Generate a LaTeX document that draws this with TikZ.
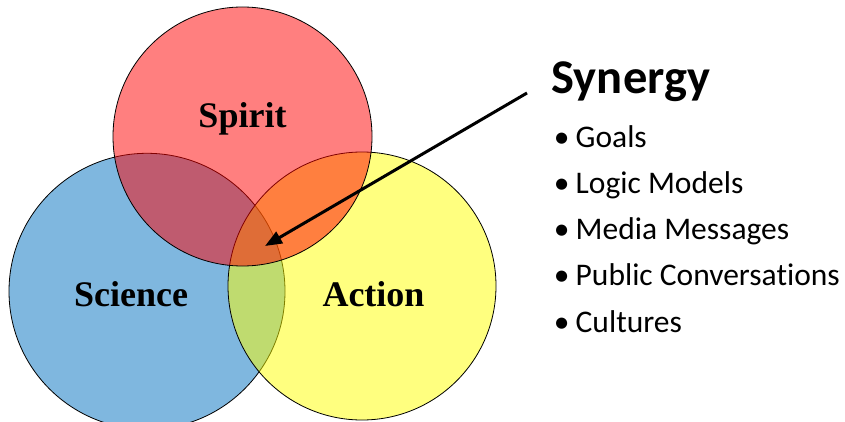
\documentclass[tikz,border=0pt]{standalone}
\usepackage{fontspec}
\setmainfont{Liberation Serif}
\newfontfamily\calib[Ligatures=NoCommon]{Carlito}
\usetikzlibrary{arrows.meta}
\begin{document}
\begin{tikzpicture}[x=1pt,y=-1pt,
  venn/.style={circle, draw=black, line width=0.8pt, fill opacity=0.5, inner sep=0pt},
  lbl/.style={anchor=base, inner sep=0pt, font=\fontsize{36}{40}\selectfont\bfseries},
  syn/.style={anchor=base west, inner sep=0pt, font=\calib\fontsize{48.5}{52}\selectfont\bfseries},
  bul/.style={anchor=base, inner sep=0pt, font=\calib\fontsize{31.5}{34}\selectfont},
  item/.style={anchor=base west, inner sep=0pt, font=\calib\fontsize{31.5}{34}\selectfont},
  arr/.style={line width=3pt, -{Triangle[length=17pt,width=13pt]}}]
\useasboundingbox (0,0) rectangle (845,422);
\fill[white] (0,0) rectangle (845,422);
% circles
\node[venn, fill={rgb,255:red,0;green,112;blue,192}, minimum size=276pt] (science) at (147,291.3) {};
\node[venn, fill={rgb,255:red,255;green,255;blue,0}, minimum size=268pt] (action) at (362,286) {};
\node[venn, fill={rgb,255:red,255;green,0;blue,0}, minimum size=259pt] (spirit) at (242.5,136.5) {};
% labels
\node[lbl] (spiritlbl) at (242.5,127.7) {Spirit};
\node[lbl] (sciencelbl) at (131,306.7) {Science};
\node[lbl] (actionlbl) at (373.5,306.7) {Action};
% synergy
\node[syn] (synergy) at (551.5,93.3) {Synergy};
\coordinate (arrstart) at (527,93);
\coordinate (core) at (265,246);
\draw[arr] (arrstart) -- (core);
% bullets
\foreach \i/\t in {0/Goals,1/Logic Models,2/Media Messages,3/Public Conversations,4/Cultures}{
  \node[bul] (b\i) at (561.7,147.3+46.2*\i) {•};
  \node[item] (t\i) at (575.5,147.3+46.2*\i) {\t};
}
\end{tikzpicture}
\end{document}
